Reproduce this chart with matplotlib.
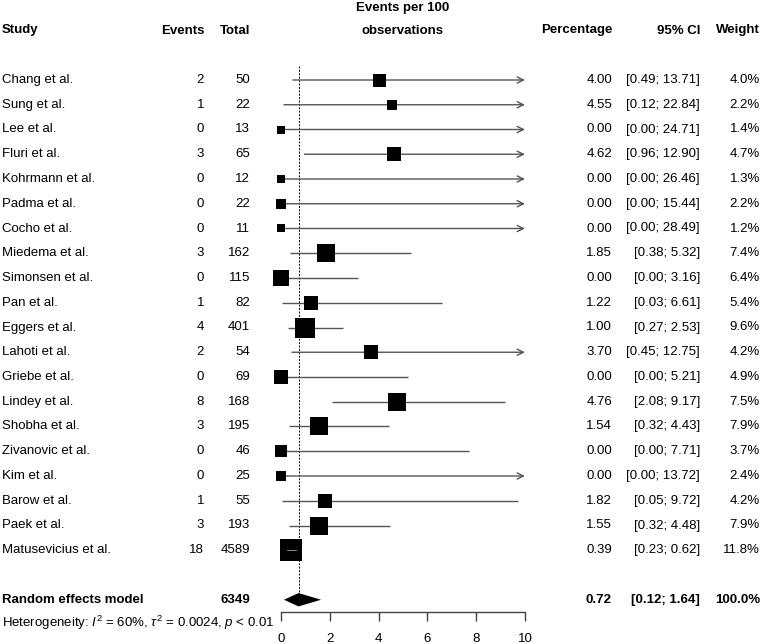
import matplotlib
matplotlib.use("Agg")
import matplotlib.pyplot as plt
import matplotlib.transforms as mtransforms
import numpy as np

plt.rcParams['font.family'] = ['Liberation Sans', 'DejaVu Sans']
plt.rcParams['mathtext.fontset'] = 'custom'
plt.rcParams['mathtext.rm'] = 'Liberation Sans'
plt.rcParams['mathtext.it'] = 'Liberation Sans:italic'

studies = ["Chang et al.", "Sung et al.", "Lee et al.", "Fluri et al.", "Kohrmann et al.",
           "Padma et al.", "Cocho et al.", "Miedema et al.", "Simonsen et al.", "Pan et al.",
           "Eggers et al.", "Lahoti et al.", "Griebe et al.", "Lindey et al.", "Shobha et al.",
           "Zivanovic et al.", "Kim et al.", "Barow et al.", "Paek et al.", "Matusevicius et al."]
events = [2, 1, 0, 3, 0, 0, 0, 3, 0, 1, 4, 2, 0, 8, 3, 0, 0, 1, 3, 18]
totals = [50, 22, 13, 65, 12, 22, 11, 162, 115, 82, 401, 54, 69, 168, 195, 46, 25, 55, 193, 4589]
pct = [4.00, 4.55, 0.00, 4.62, 0.00, 0.00, 0.00, 1.85, 0.00, 1.22, 1.00, 3.70, 0.00, 4.76,
       1.54, 0.00, 0.00, 1.82, 1.55, 0.39]
lower = [0.49, 0.12, 0.00, 0.96, 0.00, 0.00, 0.00, 0.38, 0.00, 0.03, 0.27, 0.45, 0.00, 2.08,
         0.32, 0.00, 0.00, 0.05, 0.32, 0.23]
upper = [13.71, 22.84, 24.71, 12.90, 26.46, 15.44, 28.49, 5.32, 3.16, 6.61, 2.53, 12.75, 5.21,
         9.17, 4.43, 7.71, 13.72, 9.72, 4.48, 0.62]
weights = [4.0, 2.2, 1.4, 4.7, 1.3, 2.2, 1.2, 7.4, 6.4, 5.4, 9.6, 4.2, 4.9, 7.5, 7.9, 3.7,
           2.4, 4.2, 7.9, 11.8]
pooled_est = 0.72
pooled_lo = 0.12
pooled_hi = 1.64
pooled_total = 6349
pooled_weight = 100.0
xticks = [0, 2, 4, 6, 8, 10]
xmax = 10
heterogeneity = r"Heterogeneity: $I^2$ = 60%, $\tau^2$ = 0.0024, $p$ < 0.01"

W, H = 762, 644
fig = plt.figure(figsize=(W / 100, H / 100), dpi=100)
# row geometry (pixels)
y0_px, step_px = 80, 24.75
ytop = -y0_px / step_px
ybot = (H - y0_px) / step_px
ax = fig.add_axes([281 / W, 0, 244 / W, 1])
ax.set_xlim(0, xmax)
ax.set_ylim(ybot, ytop)
ax.patch.set_visible(False)

fs = 9.5
for s in ['top', 'right', 'left']:
    ax.spines[s].set_visible(False)
n = len(studies)
pooled_row = n + 1
axis_row = pooled_row + 0.5
ax.spines['bottom'].set_position(('data', axis_row))
ax.spines['bottom'].set_bounds(0, xmax)
ax.spines['bottom'].set_color('#444444')
ax.spines['bottom'].set_linewidth(1.0)
ax.set_yticks([])
ax.set_xticks(xticks)
ax.set_xticklabels([str(t) for t in xticks], fontsize=fs)
ax.tick_params(axis='x', direction='out', length=6.5, width=1.0, color='#444444', pad=8.5)

linecol = '#555555'
px2pt = 0.72
for i in range(n):
    y = i
    lo, hi = lower[i], upper[i]
    side_px = 5.9 * np.sqrt(weights[i]) + 1.2
    half_x = side_px / 2 / 24.4
    if hi > xmax:
        ax.annotate('', xy=(xmax, y), xytext=(lo, y),
                    arrowprops=dict(arrowstyle='->,head_length=0.45,head_width=0.22',
                                    lw=1.0, color=linecol, shrinkA=0, shrinkB=0),
                    annotation_clip=False)
    else:
        ax.plot([lo, hi], [y, y], color=linecol, lw=1.0, solid_capstyle='butt',
                clip_on=False, zorder=2)
    ax.scatter([pct[i]], [y], marker='s', s=(side_px * px2pt) ** 2, color='black',
               linewidths=0, zorder=3, clip_on=False)
    if (pct[i] - lo) < half_x and (hi - pct[i]) < half_x:
        ax.plot([lo, hi], [y, y], color='#bbbbbb', lw=0.5, zorder=4, clip_on=False)

# reference dashed line at pooled estimate
ax.plot([pooled_est, pooled_est], [-0.57, pooled_row - 0.24], color='black', lw=0.7,
        linestyle=(0, (2, 1.5)), zorder=1, clip_on=False)

# diamond
dh = 0.27
ax.fill([pooled_lo, pooled_est, pooled_hi, pooled_est],
        [pooled_row, pooled_row - dh, pooled_row, pooled_row + dh],
        color='black', lw=0, clip_on=False, zorder=3)

tr = mtransforms.blended_transform_factory(fig.transFigure, ax.transData)
x_study = 2 / W
x_events = 204 / W
x_total = 250 / W
x_center = 403 / W
x_pct = 612 / W
x_ci = 700 / W
x_w = 760 / W

hdr = dict(transform=tr, fontsize=fs, fontweight='bold', va='center')
hrow = -2
ax.text(x_study, hrow, "Study", ha='left', **hdr)
ax.text(x_events, hrow, "Events", ha='right', **hdr)
ax.text(x_total, hrow, "Total", ha='right', **hdr)
ax.text(x_center, hrow - 0.9, "Events per 100", ha='center', **hdr)
ax.text(x_center, hrow, "observations", ha='center', **hdr)
ax.text(x_pct, hrow, "Percentage", ha='right', **hdr)
ax.text(x_ci, hrow, "95% CI", ha='right', **hdr)
ax.text(x_w, hrow, "Weight", ha='right', **hdr)

rowkw = dict(transform=tr, fontsize=fs, va='center')
for i in range(n):
    ax.text(x_study, i, studies[i], ha='left', **rowkw)
    ax.text(x_events, i, str(events[i]), ha='right', **rowkw)
    ax.text(x_total, i, str(totals[i]), ha='right', **rowkw)
    ax.text(x_pct, i, f"{pct[i]:.2f}", ha='right', **rowkw)
    ax.text(x_ci, i, f"[{lower[i]:.2f}; {upper[i]:.2f}]", ha='right', **rowkw)
    ax.text(x_w, i, f"{weights[i]:.1f}%", ha='right', **rowkw)

bkw = dict(transform=tr, fontsize=fs, va='center', fontweight='bold')
ax.text(x_study, pooled_row, "Random effects model", ha='left', **bkw)
ax.text(x_total, pooled_row, str(pooled_total), ha='right', **bkw)
ax.text(x_pct, pooled_row, f"{pooled_est:.2f}", ha='right', **bkw)
ax.text(x_ci, pooled_row, f"[{pooled_lo:.2f}; {pooled_hi:.2f}]", ha='right', **bkw)
ax.text(x_w, pooled_row, f"{pooled_weight:.1f}%", ha='right', **bkw)
ax.text(x_study, pooled_row + 0.95, heterogeneity, ha='left', transform=tr, fontsize=fs,
        va='center')

fig.savefig("out.png", dpi=100)
